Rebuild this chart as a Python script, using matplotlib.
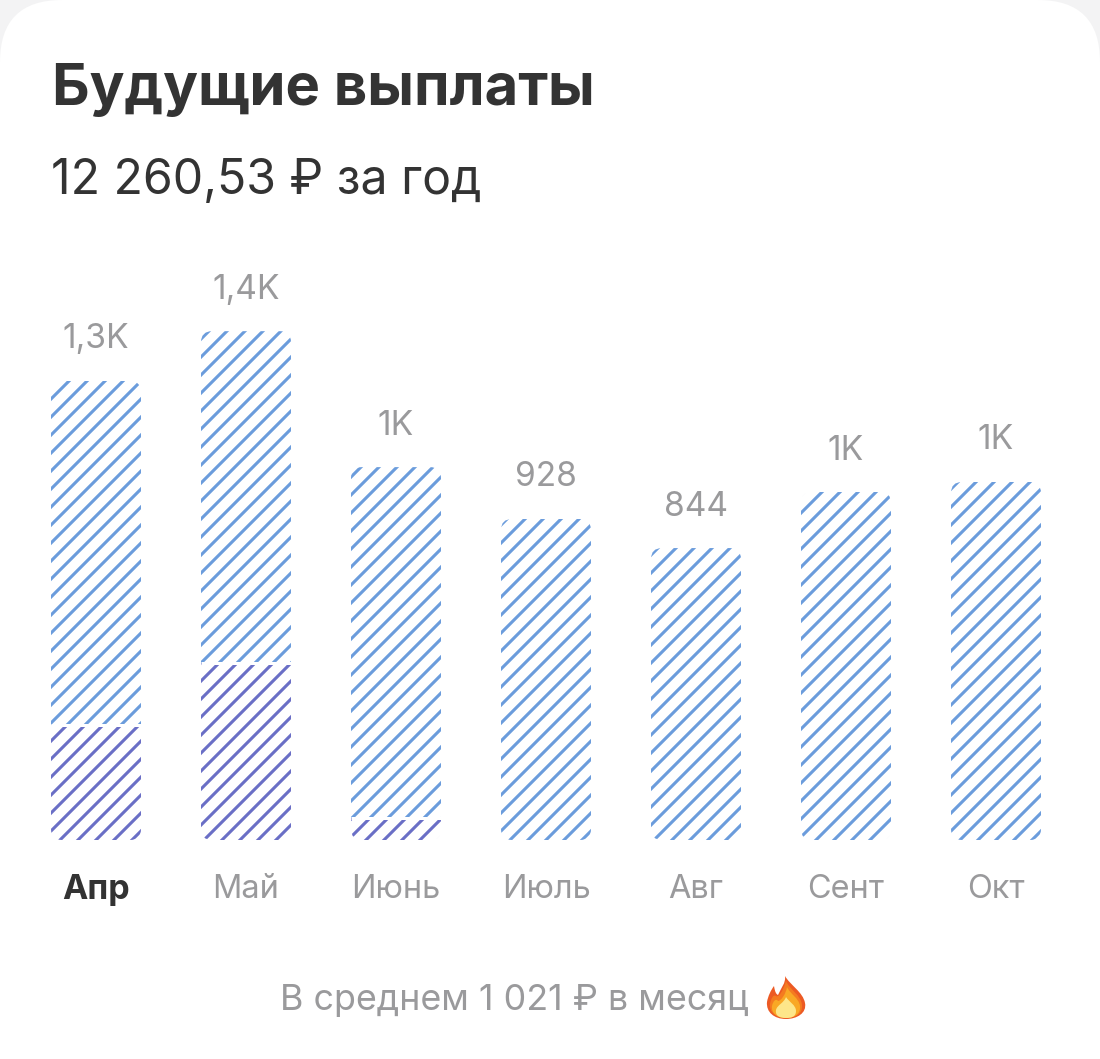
import matplotlib
matplotlib.use("Agg")
import matplotlib.pyplot as plt
from matplotlib.patches import FancyBboxPatch, PathPatch
from matplotlib.path import Path
from matplotlib.transforms import IdentityTransform

DPI = 108  # hatch spacing in agg is tied to dpi, "//" gives the 18 px of the original
W, H = 1100, 1059

months = ["Апр", "Май", "Июнь", "Июль", "Авг", "Сент", "Окт"]
totals = [1327, 1471, 1078, 928, 844, 1006, 1035]
lower = [332, 512, 64, 0, 0, 0, 0]  # darker part at the bottom of the bar
value_labels = ["1,3K", "1,4K", "1K", "928", "844", "1K", "1K"]

title = "Будущие выплаты"
subtitle = "12 260,53 ₽ за год"
footer = "В среднем 1 021 ₽ в месяц"

BLUE = "#6b9cdc"
PURPLE = "#6a6fc6"
GRAY = "#9a9a9c"
DARK = "#333333"
FONT = ["Inter", "Roboto", "DejaVu Sans"]


def pt(px):
    return px * 72 / DPI


plt.rcParams["font.family"] = FONT
plt.rcParams["hatch.linewidth"] = pt(3.1)

fig = plt.figure(figsize=(W / DPI, H / DPI), dpi=DPI, facecolor="#f3f3f4")

# page layer, measured in pixels
page = fig.add_axes([0, 0, 1, 1])
page.set_xlim(0, W)
page.set_ylim(H, 0)
page.axis("off")
page.add_patch(FancyBboxPatch((0, 0), W, H + 200, boxstyle="round,pad=0,rounding_size=62",
                              fc="white", ec="none"))

page.text(52, 105, title, fontsize=pt(58), fontweight="bold", color=DARK, va="baseline")
page.text(51, 194, subtitle, fontsize=pt(48.2), color=DARK, va="baseline")
page.text(280, 1010, footer, fontsize=pt(35.8), color=GRAY, va="baseline")


def flame(verts, color):
    codes = [Path.MOVETO] + [Path.CURVE4] * (len(verts) - 2) + [Path.CLOSEPOLY]
    page.add_patch(PathPatch(Path(verts, codes), fc=color, ec="none"))


flame([(785, 976), (790, 985), (803, 992), (805, 1003), (807, 1013), (797, 1019), (786, 1019),
       (774, 1019), (766, 1012), (767, 1002), (768, 996), (771, 990), (774, 986), (775, 992),
       (776, 994), (778, 995), (781, 988), (786, 983), (785, 976), (785, 976)], "#ec5a24")
flame([(786, 981), (790, 990), (801, 995), (802, 1005), (803, 1014), (795, 1018), (786, 1018),
       (776, 1018), (769, 1012), (770, 1004), (771, 999), (773, 994), (776, 996), (778, 998),
       (783, 992), (786, 981), (786, 981), (786, 981)], "#f47b20")
flame([(787, 987), (790, 994), (799, 998), (800, 1006), (801, 1014), (794, 1018), (786, 1018),
       (777, 1018), (771, 1013), (772, 1006), (773, 1001), (776, 998), (778, 1001), (781, 1001),
       (786, 994), (787, 987), (787, 987), (787, 987)], "#f9a825")
flame([(786, 997), (789, 1002), (796, 1005), (796, 1011), (796, 1017), (791, 1018), (786, 1018),
       (780, 1018), (775, 1016), (776, 1010), (777, 1005), (784, 1003), (786, 997), (786, 997)],
      "#fde68a")

# bar layer: one data unit in x is 150 px, first bar sits at x = 96 px
PX_PER_UNIT = 321 / 928
base_px, top_px = 840, 240
bars_ax = fig.add_axes([0, 1 - base_px / H, 1, (base_px - top_px) / H])
bars_ax.patch.set_alpha(0)
bars_ax.set_xlim(-96 / 150, (W - 96) / 150)
bars_ax.set_ylim(0, (base_px - top_px) / PX_PER_UNIT)
for side in bars_ax.spines.values():
    side.set_visible(False)
bars_ax.set_yticks([])
x = list(range(len(months)))
bars_ax.set_xticks(x, months, fontsize=pt(32.5), color=GRAY)
bars_ax.tick_params(axis="x", length=0, pad=pt(34))
bars_ax.get_xticklabels()[0].set_color(DARK)
bars_ax.get_xticklabels()[0].set_fontweight("bold")
bars_ax.get_xticklabels()[0].set_fontsize(pt(34))

upper = [t - l for t, l in zip(totals, lower)]
bar_w = 0.6
top_bars = bars_ax.bar(x, upper, bar_w, bottom=lower, facecolor="white", edgecolor=BLUE,
                       hatch="//", linewidth=0)
low_bars = bars_ax.bar(x, lower, bar_w, facecolor="white", edgecolor=PURPLE, hatch="//", linewidth=0)

fig.canvas.draw()
for i, (a, b) in enumerate(zip(top_bars, low_bars)):
    x0, y0 = bars_ax.transData.transform((i - bar_w / 2, 0))
    x1, y1 = bars_ax.transData.transform((i + bar_w / 2, totals[i]))
    clip = FancyBboxPatch((x0, y0), x1 - x0, y1 - y0, boxstyle="round,pad=0,rounding_size=11",
                          transform=IdentityTransform())
    a.set_clip_path(clip)
    b.set_clip_path(clip)
    if lower[i]:
        bars_ax.hlines(lower[i], i - bar_w / 2, i + bar_w / 2, color="white", lw=pt(3), zorder=3)
    bars_ax.annotate(value_labels[i], (i, totals[i]), xytext=(0, pt(32.5)), textcoords="offset points",
                     ha="center", va="baseline", fontsize=pt(33.5), color=GRAY)

fig.savefig("out.png", dpi=DPI, facecolor=fig.get_facecolor())
